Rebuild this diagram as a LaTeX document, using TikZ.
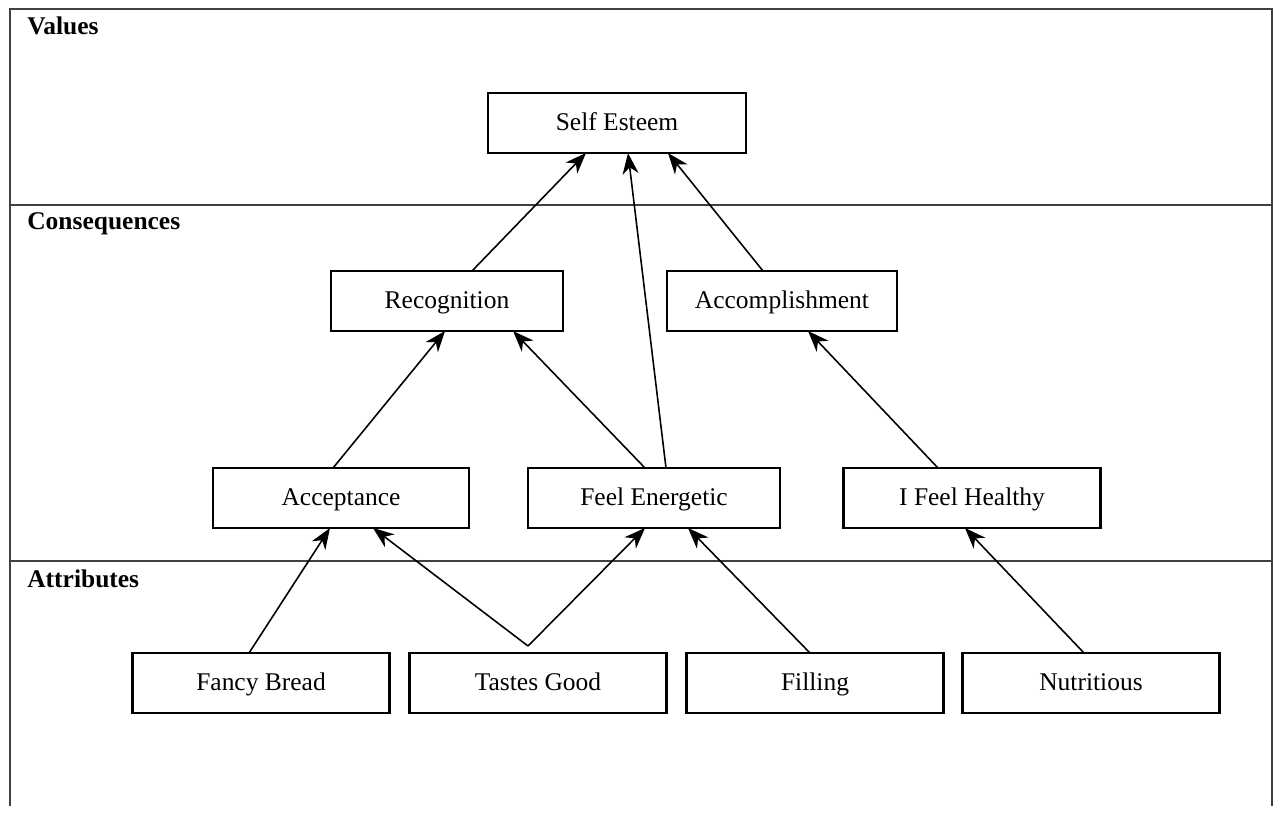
\documentclass[tikz,border=0pt]{standalone}
\usepackage{fontspec}
\setmainfont{Liberation Serif}
\usetikzlibrary{arrows.meta,calc}
\begin{document}
\begin{tikzpicture}[x=.02cm,y=-.02cm,
    box/.style={draw,line width=1.2pt,minimum width=5.14cm,minimum height=1.2cm,
      inner sep=0pt,outer sep=0pt,text height=11pt,text depth=3pt,
      font=\fontsize{14.5}{17}\selectfont},
    lvl/.style={anchor=base west,inner sep=0pt,font=\fontsize{14.5}{17}\selectfont\bfseries},
    link/.style={line width=.9pt,-{Stealth[length=4.2mm,width=3.2mm,inset=1.3mm]}}]
        \useasboundingbox (0,0) rectangle (1274,824);

        % frame and bands
        \draw[line width=1.2pt,black!75] (10,806) -- (10,9) -- (1272,9) -- (1272,806);
        \draw[line width=.9pt,black!75] (10,205) -- (1272,205);
        \draw[line width=.9pt,black!75] (10,561) -- (1272,561);
        \node[lvl] (values) at (27,35) {Values};
        \node[lvl] (conseq) at (27,230) {Consequences};
        \node[lvl] (attrib) at (27,587) {Attributes};

        % values
        \node[box,minimum width=5.16cm] (self) at (617,123) {Self Esteem};

        % consequences
        \node[box,minimum width=4.64cm] (recog) at (447,301) {Recognition};
        \node[box,minimum width=4.6cm] (accomp) at (782,301) {Accomplishment};
        \node[box,minimum width=5.12cm] (accept) at (341,498) {Acceptance};
        \node[box,minimum width=5.04cm] (energy) at (654,498) {Feel Energetic};
        \node[box] (healthy) at (972,498) {I Feel Healthy};

        % attributes
        \node[box] (fancy) at (261,683) {Fancy Bread};
        \node[box] (tastes) at (538,683) {Tastes Good};
        \node[box] (filling) at (815,683) {Filling};
        \node[box] (nutri) at (1091,683) {Nutritious};
        \coordinate (tastestop) at ($(tastes.north)+(-10,-7)$);

        % links
        \draw[link] ($(fancy.north)+(-12,0)$) -- ($(accept.south)+(-11,0)$);
        \draw[link] (tastestop) -- ($(accept.south)+(32,0)$);
        \draw[link] (tastestop) -- ($(energy.south)+(-9,0)$);
        \draw[link] ($(filling.north)+(-5,0)$) -- ($(energy.south)+(34,0)$);
        \draw[link] ($(nutri.north)+(-7,0)$) -- ($(healthy.south)+(-7,0)$);

        \draw[link] ($(accept.north)+(-8,0)$) -- ($(recog.south)+(-2,0)$);
        \draw[link] ($(energy.north)+(-9,0)$) -- ($(recog.south)+(66,0)$);
        \draw[link] ($(energy.north)+(12,0)$) -- ($(self.south)+(11,0)$);
        \draw[link] ($(healthy.north)+(-34,0)$) -- ($(accomp.south)+(26,0)$);

        \draw[link] ($(recog.north)+(25,0)$) -- ($(self.south)+(-31,0)$);
        \draw[link] ($(accomp.north)+(-19,0)$) -- ($(self.south)+(51,0)$);
      \end{tikzpicture}
\end{document}
